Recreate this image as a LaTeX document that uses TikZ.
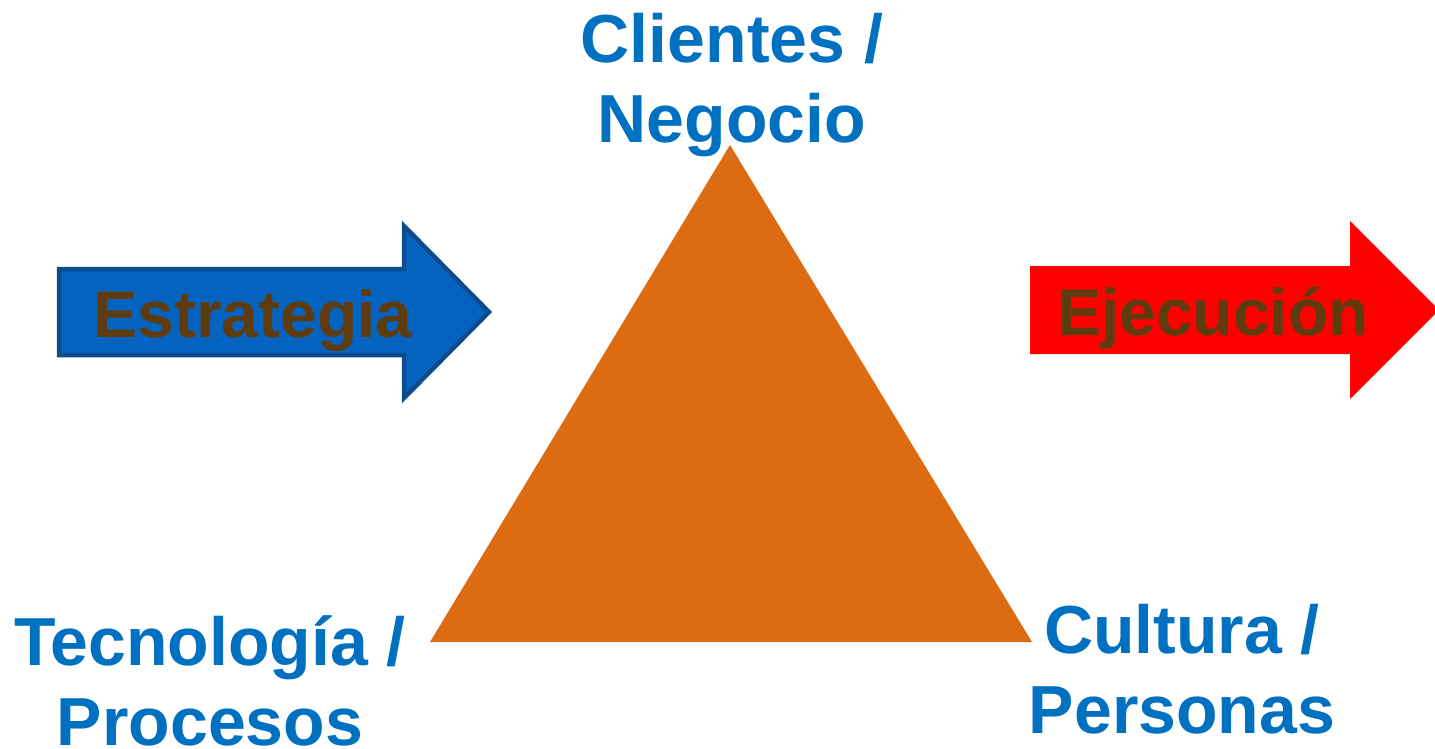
\documentclass[tikz,border=0pt]{standalone}
\usepackage{fontspec}
\setmainfont{Liberation Sans}
\definecolor{labelblue}{RGB}{0,112,192}
\definecolor{arrowblue}{RGB}{5,99,192}
\definecolor{arrowedge}{RGB}{12,76,142}
\definecolor{arrowred}{RGB}{255,0,0}
\definecolor{browntext}{RGB}{94,60,16}
\definecolor{triorange}{RGB}{221,107,18}
\tikzset{
  lbl/.style={font=\bfseries\fontsize{68}{80}\selectfont, text=labelblue, align=center, inner sep=0pt, anchor=base},
  arrowtxt/.style={font=\bfseries\fontsize{66}{80}\selectfont, text=browntext, inner sep=0pt, anchor=base},
}
\begin{document}
\begin{tikzpicture}[x=1pt,y=-1pt]
\useasboundingbox (0,0) rectangle (1435,748);
% triangle
\fill[triorange] (730,145) -- (1032,642) -- (430,642) -- cycle;
% blue arrow
\filldraw[fill=arrowblue, draw=arrowedge, line width=4.5pt, line join=miter]
  (59,269) -- (404,269) -- (404,226) -- (489,312) -- (404,398) -- (404,355) -- (59,355) -- cycle;
% red arrow
\fill[arrowred] (1030,266) -- (1350,266) -- (1350,221) -- (1439,310) -- (1350,399) -- (1350,354) -- (1030,354) -- cycle;
\node[arrowtxt] (estr) at (253,337) {Estrategia};
\node[arrowtxt] (ejec) at (1213,335) {Ejecución};
\node[lbl] (cli) at (732,142) {Clientes /\\Negocio};
\node[lbl] (tec) at (210,745) {Tecnología /\\Procesos};
\node[lbl] (cul) at (1182,733) {Cultura /\\Personas};
\end{tikzpicture}
\end{document}
